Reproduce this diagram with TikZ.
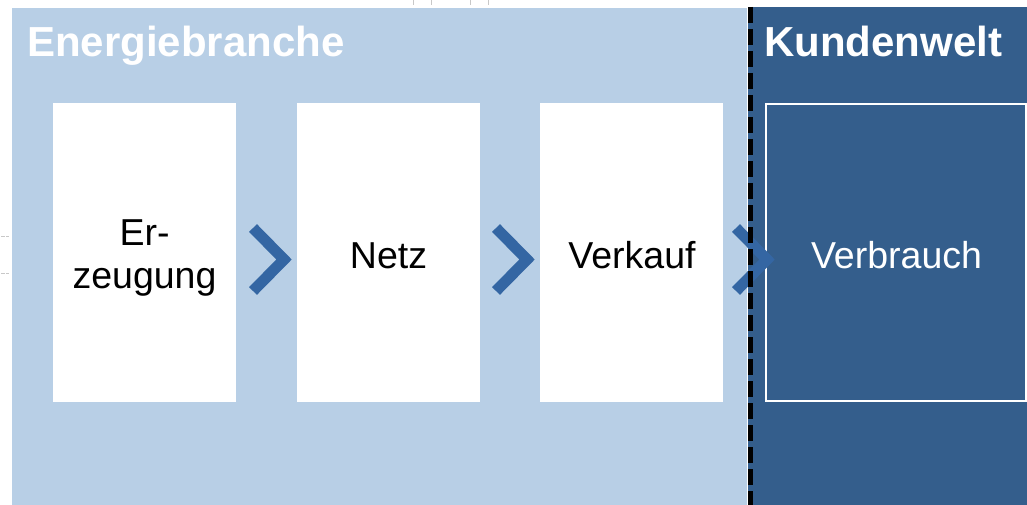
\documentclass[tikz,border=0pt]{standalone}
\usepackage{fontspec}
\setmainfont{Liberation Sans}
\definecolor{lightbg}{HTML}{B8CFE6}
\definecolor{darkbg}{HTML}{345E8C}
\definecolor{chevblue}{HTML}{3466A3}
\definecolor{markgray}{HTML}{C8C8C8}
\tikzset{
  stagebox/.style={fill=white, draw=none, minimum width=183pt, minimum height=299pt, inner sep=0pt},
  lbl/.style={font=\fontsize{37.5}{43}\selectfont, text=black, inner sep=0pt, anchor=base},
  title/.style={font=\fontsize{42}{46}\selectfont\bfseries, text=white, inner sep=0pt, anchor=base west},
  chevron/.style={draw=chevblue, line width=11pt, line join=miter, line cap=butt},
  sep/.style={draw=black, line width=4.5pt, dash pattern=on 16pt off 6pt},
  tick/.style={draw=markgray, line width=0.8pt}
}
\begin{document}
\begin{tikzpicture}[x=1pt,y=-1pt]
\useasboundingbox (0,0) rectangle (1027,505);
\fill[white] (0,0) rectangle (1027,505);
% backgrounds
\fill[lightbg] (12,8) rectangle (747,505);
\fill[darkbg] (748,7) rectangle (1027,505);
% small marks
\foreach \xx in {413,431,470,488} \draw[tick] (\xx,0) -- (\xx,5);
\foreach \yy in {236,273} {\draw[tick] (1,\yy) -- (5,\yy); \draw[tick] (6,\yy) -- (9,\yy);}
% titles
\node[title] (t1) at (27,57) {Energiebranche};
\node[title] (t2) at (764,57) {Kundenwelt};
% boxes
\node[stagebox] (erz) at (144.5,252.5) {};
\node[stagebox] (netz) at (388.5,252.5) {};
\node[stagebox] (verk) at (631.5,252.5) {};
\node[stagebox, fill=none, draw=white, line width=2pt, minimum width=260pt, minimum height=297pt] (verb) at (895.5,252.5) {};
% labels
\node[lbl] (erz1) at (144.5,245) {Er-};
\node[lbl] (erz2) at (144.5,288) {zeugung};
\node[lbl] (netzl) at (388.5,268) {Netz};
\node[lbl] (verkl) at (632,268) {Verkauf};
\node[lbl, text=white] (verbl) at (896.5,268) {Verbrauch};
% chevrons
\foreach \dx/\nm in {0/c1,243/c2,483/c3} {
  \coordinate (\nm a) at (253+\dx,228);
  \coordinate (\nm t) at (284+\dx,259.5);
  \coordinate (\nm b) at (253+\dx,291);
  \draw[chevron] (\nm a) -- (\nm t) -- (\nm b);
}
% separator
\coordinate (s1) at (750.5,7);
\coordinate (s2) at (750.5,505);
\draw[sep] (s1) -- (s2);
\end{tikzpicture}
\end{document}
